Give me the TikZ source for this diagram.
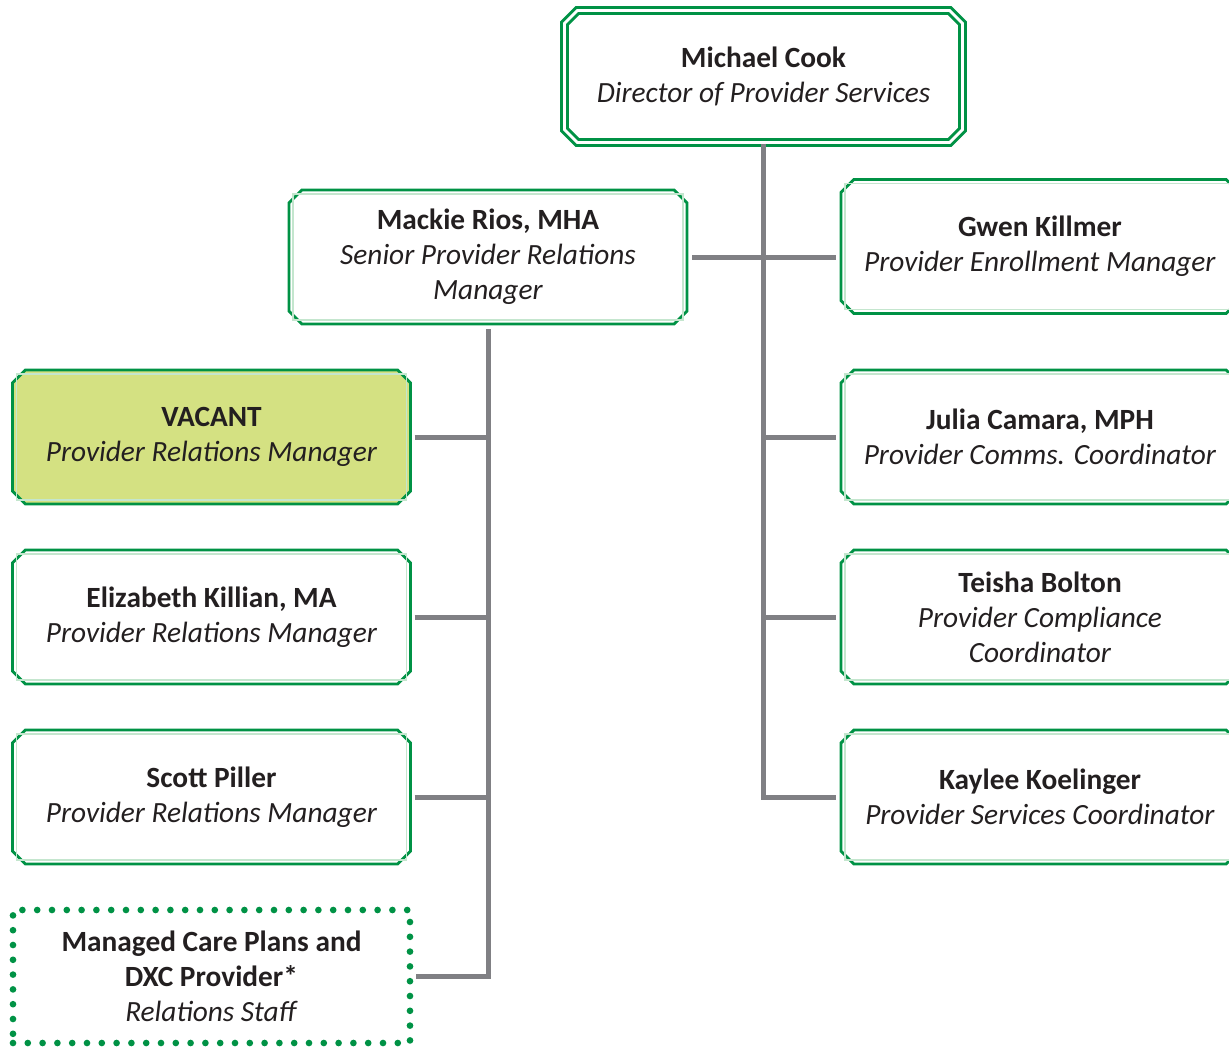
\documentclass[tikz,border=0pt]{standalone}
\usepackage{fontspec}
\setmainfont{Carlito}
\usetikzlibrary{shapes.misc}

\definecolor{boxgreen}{RGB}{0,146,69}
\definecolor{palegreen}{RGB}{196,230,206}
\definecolor{vacantfill}{RGB}{212,225,130}
\definecolor{linkgray}{RGB}{128,128,132}
\definecolor{textgray}{RGB}{35,31,32}

\begin{document}
\begin{tikzpicture}[x=0.75pt,y=-0.75pt,
        font=\fontsize{22}{26.25}\selectfont,text=textgray,
        staff/.style={chamfered rectangle,chamfered rectangle xsep=6.5pt,draw=boxgreen,line width=2.2pt,
            fill=white,minimum width=298.5pt,minimum height=100.5pt,inner sep=0pt,align=center},
        staffinner/.style={chamfered rectangle,chamfered rectangle xsep=5pt,draw=palegreen,line width=0.8pt,
            minimum width=292.5pt,minimum height=94.5pt,inner sep=0pt},
        director/.style={staff,double=white,double distance=2.2pt,minimum width=298.5pt,minimum height=99pt},
        outside/.style={rectangle,draw=boxgreen,line width=5pt,line cap=round,dash pattern=on 0pt off 11.1pt,
            minimum width=297.75pt,minimum height=99.75pt,inner sep=0pt,align=center},
        link/.style={draw=linkgray,line width=3.75pt}]

    \useasboundingbox (0,0) rectangle (1229,1047);

    % boxes
    \node[director] (mc) at (763.5,76.5) {\textbf{Michael Cook}\\\textit{Director of Provider Services}};
    \node[staff] (mr) at (488,257) {\textbf{Mackie Rios, MHA}\\\textit{Senior Provider Relations}\\\textit{Manager}};

    \node[staff,fill=vacantfill] (vac) at (211.5,437) {\textbf{VACANT}\\\textit{Provider Relations Manager}};
    \node[staff] (ek) at (211.5,617) {\textbf{Elizabeth Killian, MA}\\\textit{Provider Relations Manager}};
    \node[staff] (sp) at (211.5,797) {\textbf{Scott Piller}\\\textit{Provider Relations Manager}};
    \node[outside] (mcp) at (211.5,976.5) {\textbf{Managed Care Plans and}\\\textbf{DXC Provider*}\\\textit{Relations Staff}};

    \node[staff] (gk) at (1040,246.5) {\textbf{Gwen Killmer}\\\textit{Provider Enrollment Manager}};
    \node[staff] (jc) at (1040,437) {\textbf{Julia Camara, MPH}\\\textit{Provider Comms. Coordinator}};
    \node[staff] (tb) at (1040,617) {\textbf{Teisha Bolton}\\\textit{Provider Compliance}\\\textit{Coordinator}};
    \node[staff] (kk) at (1040,797) {\textbf{Kaylee Koelinger}\\\textit{Provider Services Coordinator}};

    \foreach \n in {mr,vac,ek,sp,gk,jc,tb,kk}
        \node[staffinner] at (\n) {};

    % trunks
    \draw[link,shorten >=3pt] (mc.south) |- (kk.west);
    \draw[link,shorten <=3pt,shorten >=2pt] (mr.south) |- (mcp.east);

    % branches
    \draw[link,shorten <=3pt,shorten >=3pt] (mr.east) -- (mr.east -| gk.west);
    \foreach \n in {jc,tb}
        \draw[link,shorten >=3pt] (mc.south |- \n.west) -- (\n.west);
    \foreach \n in {vac,ek,sp}
        \draw[link,shorten <=2pt] (\n.east) -- (\n.east -| mr.south);
\end{tikzpicture}
\end{document}
